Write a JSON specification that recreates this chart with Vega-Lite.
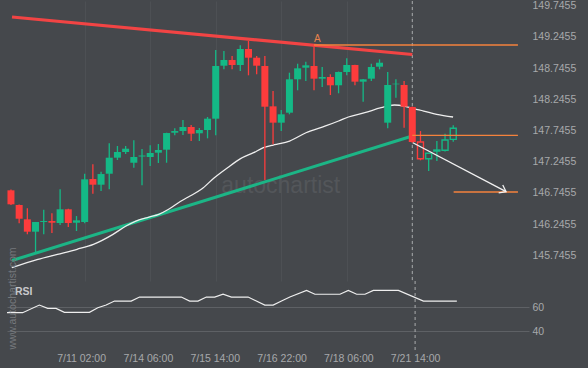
{
  "$schema": "https://vega.github.io/schema/vega-lite/v6.json",
  "background": "#45484c",
  "padding": {"left": 7, "top": 0, "right": 12, "bottom": 4},
  "config": {
    "view": {"stroke": null},
    "font": "Liberation Sans",
    "axis": {"labelFont": "Liberation Sans", "labelColor": "#a7a9ab", "labelFontSize": 10.5, "domain": false, "ticks": false, "tickSize": 0, "grid": false}
  },
  "datasets": {
    "candles": [
      {"i":0,"o":146.787,"h":146.80,"l":146.55,"c":146.563},
      {"i":1,"o":146.552,"h":146.56,"l":146.258,"c":146.332},
      {"i":2,"o":146.322,"h":146.499,"l":146.082,"c":146.124},
      {"i":3,"o":146.124,"h":146.28,"l":145.787,"c":146.279},
      {"i":4,"o":146.279,"h":146.476,"l":146.082,"c":146.295},
      {"i":5,"o":146.295,"h":146.419,"l":146.103,"c":146.268},
      {"i":6,"o":146.263,"h":146.803,"l":146.231,"c":146.483},
      {"i":7,"o":146.483,"h":146.49,"l":146.199,"c":146.263},
      {"i":8,"o":146.268,"h":146.375,"l":146.135,"c":146.306},
      {"i":9,"o":146.279,"h":147.053,"l":146.258,"c":146.963},
      {"i":10,"o":146.968,"h":147.204,"l":146.733,"c":146.877},
      {"i":11,"o":146.877,"h":147.085,"l":146.776,"c":147.048},
      {"i":12,"o":147.053,"h":147.54,"l":146.803,"c":147.31},
      {"i":13,"o":147.31,"h":147.497,"l":147.273,"c":147.401},
      {"i":14,"o":147.401,"h":147.497,"l":147.369,"c":147.454},
      {"i":15,"o":147.229,"h":147.588,"l":147.149,"c":147.321},
      {"i":16,"o":147.329,"h":147.45,"l":146.867,"c":147.345},
      {"i":17,"o":147.321,"h":147.508,"l":147.177,"c":147.385},
      {"i":18,"o":147.39,"h":147.529,"l":147.225,"c":147.433},
      {"i":19,"o":147.438,"h":147.71,"l":147.229,"c":147.705},
      {"i":20,"o":147.71,"h":147.781,"l":147.669,"c":147.737},
      {"i":21,"o":147.737,"h":147.914,"l":147.673,"c":147.802},
      {"i":22,"o":147.802,"h":147.834,"l":147.577,"c":147.694},
      {"i":23,"o":147.701,"h":147.786,"l":147.577,"c":147.754},
      {"i":24,"o":147.754,"h":147.962,"l":147.62,"c":147.935},
      {"i":25,"o":147.935,"h":149.036,"l":147.669,"c":148.779},
      {"i":26,"o":148.784,"h":149.02,"l":148.726,"c":148.875},
      {"i":27,"o":148.875,"h":148.939,"l":148.726,"c":148.795},
      {"i":28,"o":148.795,"h":149.111,"l":148.699,"c":149.052},
      {"i":29,"o":149.052,"h":149.18,"l":148.63,"c":148.912},
      {"i":30,"o":148.912,"h":148.939,"l":148.646,"c":148.784},
      {"i":31,"o":148.779,"h":148.939,"l":146.952,"c":148.127},
      {"i":32,"o":148.133,"h":148.379,"l":147.524,"c":147.871},
      {"i":33,"o":147.871,"h":148.074,"l":147.737,"c":148.005},
      {"i":34,"o":148.031,"h":148.672,"l":148.005,"c":148.566},
      {"i":35,"o":148.566,"h":148.816,"l":148.39,"c":148.742},
      {"i":36,"o":148.752,"h":148.848,"l":148.539,"c":148.79},
      {"i":37,"o":148.779,"h":149.116,"l":148.39,"c":148.576},
      {"i":38,"o":148.576,"h":148.763,"l":148.443,"c":148.603},
      {"i":39,"o":148.603,"h":148.646,"l":148.314,"c":148.47},
      {"i":40,"o":148.47,"h":148.69,"l":148.342,"c":148.683},
      {"i":41,"o":148.683,"h":148.903,"l":148.63,"c":148.795},
      {"i":42,"o":148.795,"h":148.8,"l":148.47,"c":148.528},
      {"i":43,"o":148.528,"h":148.57,"l":148.207,"c":148.566},
      {"i":44,"o":148.576,"h":148.816,"l":148.539,"c":148.763},
      {"i":45,"o":148.768,"h":148.886,"l":148.726,"c":148.832},
      {"i":46,"o":147.871,"h":148.683,"l":147.781,"c":148.475},
      {"i":47,"o":148.486,"h":148.566,"l":148.271,"c":148.496},
      {"i":48,"o":148.475,"h":148.539,"l":147.79,"c":148.127},
      {"i":49,"o":148.122,"h":148.13,"l":147.55,"c":147.561},
      {"i":50,"o":147.561,"h":147.737,"l":147.268,"c":147.294},
      {"i":51,"o":147.294,"h":147.385,"l":147.096,"c":147.38},
      {"i":52,"o":147.417,"h":147.577,"l":147.257,"c":147.433},
      {"i":53,"o":147.428,"h":147.694,"l":147.41,"c":147.593},
      {"i":54,"o":147.604,"h":147.829,"l":147.566,"c":147.781}
    ],
    "ma": [
      {"i":0.1,"p":145.547},{"i":3.28,"p":145.681},{"i":5.67,"p":145.761},{"i":8.07,"p":145.842},
      {"i":10.07,"p":145.922},{"i":12.46,"p":146.082},{"i":14.05,"p":146.215},{"i":15.25,"p":146.295},
      {"i":16.86,"p":146.359},{"i":18.05,"p":146.403},{"i":19.25,"p":146.483},{"i":20.45,"p":146.589},
      {"i":21.65,"p":146.68},{"i":23.24,"p":146.803},{"i":24.83,"p":146.989},{"i":26.44,"p":147.149},
      {"i":28.03,"p":147.294},{"i":29.62,"p":147.39},{"i":30.82,"p":147.47},{"i":32.02,"p":147.513},
      {"i":32.82,"p":147.534},{"i":34.02,"p":147.577},{"i":36.02,"p":147.71},{"i":38.41,"p":147.818},
      {"i":40.0,"p":147.898},{"i":41.2,"p":147.962},{"i":43.2,"p":148.031},{"i":45.19,"p":148.111},
      {"i":46.8,"p":148.154},{"i":48.0,"p":148.138},{"i":48.99,"p":148.101},{"i":50.39,"p":148.058},
      {"i":51.98,"p":148.005},{"i":53.98,"p":147.962}
    ],
    "rsi": [
      {"i":0,"v":55.3},{"i":2,"v":55.3},{"i":4,"v":61.6},{"i":5,"v":58.9},{"i":6,"v":58.9},{"i":7,"v":55.6},
      {"i":10,"v":55.6},{"i":11,"v":59.4},{"i":12,"v":61.6},{"i":13,"v":64.9},{"i":15,"v":64.9},{"i":16,"v":68.2},
      {"i":21,"v":68.2},{"i":22,"v":64.9},{"i":23,"v":64.9},{"i":24,"v":68.2},{"i":25,"v":68.2},{"i":26,"v":70.5},
      {"i":27,"v":68.2},{"i":29,"v":68.2},{"i":31,"v":61.6},{"i":32,"v":61.6},{"i":33,"v":64.9},{"i":34,"v":68.2},
      {"i":36,"v":73.7},{"i":37,"v":70.5},{"i":40,"v":70.5},{"i":41,"v":73.7},{"i":42,"v":70.5},{"i":43,"v":70.5},
      {"i":44,"v":73.7},{"i":47,"v":73.7},{"i":50,"v":64.9},{"i":54,"v":64.9}
    ],
    "trend": [
      {"name":"resistance","i":0.126,"p":149.564},{"name":"resistance","i":49,"p":148.963},
      {"name":"support","i":0.126,"p":145.662},{"name":"support","i":49,"p":147.657}
    ],
    "levels": [
      {"name":"high","i":37,"i2":61.9,"p":149.116},
      {"name":"breakout","i":49,"i2":61.9,"p":147.668},
      {"name":"target","i":54.05,"i2":61.9,"p":146.76}
    ],
    "arrow": [{"i":49.07,"p":147.55},{"i":60.45,"p":146.765}]
  },
  "spacing": 0,
  "bounds": "flush",
  "vconcat": [
    {
      "width": 522,
      "height": 280,
      "encoding": {
        "x": {"field": "i", "type": "quantitative", "title": null,
              "scale": {"domain": [0.126, 62.64], "nice": false, "zero": false},
              "axis": {"values": [9,17,25,33,41,49], "labels": false, "grid": true, "gridColor": "#4d5054", "domain": false, "ticks": false}}
      },
      "layer": [
        {
          "data": {"values": [{"i": 32.94, "p": 146.856, "t": "autochartist"}]},
          "mark": {"type": "text", "fontSize": 23, "color": "#53565a", "align": "center", "baseline": "middle", "font": "Liberation Sans"},
          "encoding": {
            "y": {"field": "p", "type": "quantitative", "title": null, "scale": {"domain": [145.334, 149.8208], "nice": false, "zero": false},
                  "axis": {"orient": "right", "values": [145.7455,146.2455,146.7455,147.2455,147.7455,148.2455,148.7455,149.2455,149.7455], "format": ".4f", "labelAlign": "left", "labelPadding": 3, "labelBaseline": "middle", "grid": false}},
            "text": {"field": "t"}
          }
        },
        {
          "data": {"values": [{"x": 49}]},
          "mark": {"type": "rule", "color": "#a9abad", "strokeDash": [3, 3], "strokeWidth": 1},
          "encoding": {"x": {"field": "x", "type": "quantitative"}}
        },
        {
          "data": {"name": "trend"},
          "transform": [{"filter": "datum.name == 'resistance'"}],
          "mark": {"type": "line", "color": "#f24444", "strokeWidth": 3.2, "clip": true},
          "encoding": {"y": {"field": "p", "type": "quantitative", "title": null, "scale": {"domain": [145.334, 149.8208], "nice": false, "zero": false},
                  "axis": {"orient": "right", "values": [145.7455,146.2455,146.7455,147.2455,147.7455,148.2455,148.7455,149.2455,149.7455], "format": ".4f", "labelAlign": "left", "labelPadding": 3, "labelBaseline": "middle", "grid": false}}}
        },
        {
          "data": {"name": "trend"},
          "transform": [{"filter": "datum.name == 'support'"}],
          "mark": {"type": "line", "color": "#1cb586", "strokeWidth": 3, "clip": true},
          "encoding": {"y": {"field": "p", "type": "quantitative", "title": null, "scale": {"domain": [145.334, 149.8208], "nice": false, "zero": false},
                  "axis": {"orient": "right", "values": [145.7455,146.2455,146.7455,147.2455,147.7455,148.2455,148.7455,149.2455,149.7455], "format": ".4f", "labelAlign": "left", "labelPadding": 3, "labelBaseline": "middle", "grid": false}}}
        },
        {
          "data": {"name": "ma"},
          "mark": {"type": "line", "color": "#eeeeee", "strokeWidth": 1.3, "interpolate": "monotone", "clip": true},
          "encoding": {"y": {"field": "p", "type": "quantitative", "title": null, "scale": {"domain": [145.334, 149.8208], "nice": false, "zero": false},
                  "axis": {"orient": "right", "values": [145.7455,146.2455,146.7455,147.2455,147.7455,148.2455,148.7455,149.2455,149.7455], "format": ".4f", "labelAlign": "left", "labelPadding": 3, "labelBaseline": "middle", "grid": false}}}
        },
        {
          "data": {"name": "candles"},
          "transform": [{"calculate": "datum.c >= datum.o ? 'up' : 'down'", "as": "dir"}],
          "mark": {"type": "rule", "strokeWidth": 1.3, "clip": true},
          "encoding": {
            "y": {"field": "l", "type": "quantitative", "title": null, "scale": {"domain": [145.334, 149.8208], "nice": false, "zero": false},
                  "axis": {"orient": "right", "values": [145.7455,146.2455,146.7455,147.2455,147.7455,148.2455,148.7455,149.2455,149.7455], "format": ".4f", "labelAlign": "left", "labelPadding": 3, "labelBaseline": "middle", "grid": false}},
            "y2": {"field": "h"},
            "color": {"field": "dir", "type": "nominal", "scale": {"domain": ["up", "down"], "range": ["#14b986", "#fd3c3c"]}, "legend": null}
          }
        },
        {
          "data": {"name": "candles"},
          "transform": [{"filter": "datum.i < 50"}, {"calculate": "datum.c >= datum.o ? 'up' : 'down'", "as": "dir"}],
          "mark": {"type": "bar", "size": 7, "clip": true},
          "encoding": {
            "y": {"field": "o", "type": "quantitative", "title": null, "scale": {"domain": [145.334, 149.8208], "nice": false, "zero": false},
                  "axis": {"orient": "right", "values": [145.7455,146.2455,146.7455,147.2455,147.7455,148.2455,148.7455,149.2455,149.7455], "format": ".4f", "labelAlign": "left", "labelPadding": 3, "labelBaseline": "middle", "grid": false}},
            "y2": {"field": "c"},
            "color": {"field": "dir", "type": "nominal", "scale": {"domain": ["up", "down"], "range": ["#14b986", "#fd3c3c"]}, "legend": null}
          }
        },
        {
          "data": {"name": "candles"},
          "transform": [{"filter": "datum.i >= 50"}, {"calculate": "datum.c >= datum.o ? 'up' : 'down'", "as": "dir"}],
          "mark": {"type": "bar", "size": 6, "filled": false, "fill": "#45484c", "fillOpacity": 1, "strokeWidth": 1.4, "clip": true},
          "encoding": {
            "y": {"field": "o", "type": "quantitative", "title": null, "scale": {"domain": [145.334, 149.8208], "nice": false, "zero": false},
                  "axis": {"orient": "right", "values": [145.7455,146.2455,146.7455,147.2455,147.7455,148.2455,148.7455,149.2455,149.7455], "format": ".4f", "labelAlign": "left", "labelPadding": 3, "labelBaseline": "middle", "grid": false}},
            "y2": {"field": "c"},
            "stroke": {"field": "dir", "type": "nominal", "scale": {"domain": ["up", "down"], "range": ["#14b986", "#fd3c3c"]}, "legend": null}
          }
        },
        {
          "data": {"name": "levels"},
          "mark": {"type": "rule", "color": "#f5823c", "strokeWidth": 1.4},
          "encoding": {
            "x2": {"field": "i2"},
            "y": {"field": "p", "type": "quantitative", "title": null, "scale": {"domain": [145.334, 149.8208], "nice": false, "zero": false},
                  "axis": {"orient": "right", "values": [145.7455,146.2455,146.7455,147.2455,147.7455,148.2455,148.7455,149.2455,149.7455], "format": ".4f", "labelAlign": "left", "labelPadding": 3, "labelBaseline": "middle", "grid": false}}
          }
        },
        {
          "data": {"name": "arrow"},
          "mark": {"type": "line", "color": "#f2f2f2", "strokeWidth": 1.3},
          "encoding": {"y": {"field": "p", "type": "quantitative", "title": null, "scale": {"domain": [145.334, 149.8208], "nice": false, "zero": false},
                  "axis": {"orient": "right", "values": [145.7455,146.2455,146.7455,147.2455,147.7455,148.2455,148.7455,149.2455,149.7455], "format": ".4f", "labelAlign": "left", "labelPadding": 3, "labelBaseline": "middle", "grid": false}}}
        },
        {
          "data": {"name": "arrow"},
          "transform": [{"filter": "datum.i > 55"}],
          "mark": {"type": "point", "shape": "M -1 -0.75 L 0 0 L -1 0.75", "filled": false, "stroke": "#f2f2f2", "strokeWidth": 1.3, "size": 144, "angle": 27, "opacity": 1},
          "encoding": {"y": {"field": "p", "type": "quantitative", "title": null, "scale": {"domain": [145.334, 149.8208], "nice": false, "zero": false},
                  "axis": {"orient": "right", "values": [145.7455,146.2455,146.7455,147.2455,147.7455,148.2455,148.7455,149.2455,149.7455], "format": ".4f", "labelAlign": "left", "labelPadding": 3, "labelBaseline": "middle", "grid": false}}}
        },
        {
          "data": {"values": [{"i": 37.4, "p": 149.207, "t": "A"}]},
          "mark": {"type": "text", "fontSize": 10, "color": "#e5834c", "align": "center", "baseline": "middle"},
          "encoding": {
            "y": {"field": "p", "type": "quantitative", "title": null, "scale": {"domain": [145.334, 149.8208], "nice": false, "zero": false},
                  "axis": {"orient": "right", "values": [145.7455,146.2455,146.7455,147.2455,147.7455,148.2455,148.7455,149.2455,149.7455], "format": ".4f", "labelAlign": "left", "labelPadding": 3, "labelBaseline": "middle", "grid": false}},
            "text": {"field": "t"}
          }
        }
      ]
    },
    {
      "width": 522,
      "height": 70,
      "encoding": {
        "x": {"field": "i", "type": "quantitative", "title": null,
              "scale": {"domain": [0.126, 62.64], "nice": false, "zero": false},
              "axis": {"values": [9,17,25,33,41,49], "grid": false, "labelPadding": 2,
                       "labelExpr": "datum.value == 9 ? '7/11 02:00' : datum.value == 17 ? '7/14 06:00' : datum.value == 25 ? '7/15 14:00' : datum.value == 33 ? '7/16 22:00' : datum.value == 41 ? '7/18 06:00' : '7/21 14:00'"}}
      },
      "layer": [
        {
          "data": {"name": "rsi"},
          "mark": {"type": "line", "color": "#eeeeee", "strokeWidth": 1.2, "clip": true},
          "encoding": {
            "y": {"field": "v", "type": "quantitative", "title": null, "scale": {"domain": [23.8, 81.4], "nice": false, "zero": false},
                  "axis": {"orient": "right", "values": [40, 60], "labelAlign": "left", "labelPadding": 3, "labelBaseline": "middle", "grid": true, "gridColor": "#5e6165", "gridWidth": 1}}
          }
        },
        {
          "data": {"values": [{"x": 49}]},
          "mark": {"type": "rule", "color": "#a9abad", "strokeDash": [3, 3], "strokeWidth": 1},
          "encoding": {"x": {"field": "x", "type": "quantitative"}}
        },
        {
          "data": {"values": [{"i": 1.08, "v": 72.3, "t": "RSI"}]},
          "mark": {"type": "text", "fontSize": 10.5, "fontWeight": "bold", "color": "#c9cacc", "align": "left", "baseline": "middle"},
          "encoding": {
            "y": {"field": "v", "type": "quantitative", "title": null, "scale": {"domain": [23.8, 81.4], "nice": false, "zero": false},
                  "axis": {"orient": "right", "values": [40, 60], "labelAlign": "left", "labelPadding": 3, "labelBaseline": "middle", "grid": true, "gridColor": "#5e6165", "gridWidth": 1}},
            "text": {"field": "t"}
          }
        },
        {
          "data": {"values": [{"i": 0.88, "v": 67, "t": "www.autochartist.com"}]},
          "mark": {"type": "text", "fontSize": 10.5, "color": "#75787c", "align": "center", "baseline": "middle", "angle": 270},
          "encoding": {
            "y": {"field": "v", "type": "quantitative", "title": null, "scale": {"domain": [23.8, 81.4], "nice": false, "zero": false},
                  "axis": {"orient": "right", "values": [40, 60], "labelAlign": "left", "labelPadding": 3, "labelBaseline": "middle", "grid": true, "gridColor": "#5e6165", "gridWidth": 1}},
            "text": {"field": "t"}
          }
        }
      ]
    }
  ]
}
